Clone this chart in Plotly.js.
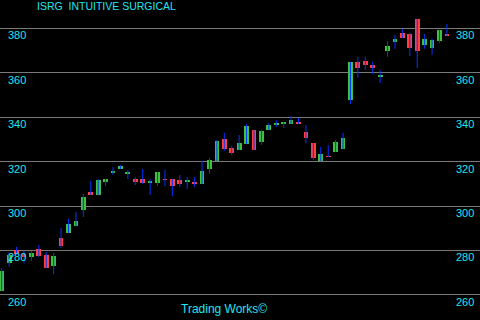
<!DOCTYPE html>
<html>
<head>
<meta charset="utf-8">
<script src="https://cdn.plot.ly/plotly-3.0.1.min.js"></script>
<style>html,body{margin:0;padding:0;background:#000;}#chart{width:480px;height:320px;}</style>
</head>
<body>
<div id="chart"></div>
<script>
var openP  = [261.9,274.5,280.2,278.5,277.1,280.7,278.0,273.0,285.6,287.9,291.0,298.2,306.4,305.0,310.9,314.9,316.7,314.5,312.2,312.2,310.6,310.4,312.2,312.2,311.8,310.9,310.9,310.0,316.7,320.3,330.2,326.2,325.3,328.0,334.3,328.9,334.3,336.5,337.0,337.0,337.9,333.4,328.4,320.3,322.5,324.4,325.7,347.8,364.9,365.4,363.6,358.2,369.9,373.9,378.0,377.5,384.3,372.6,371.2,374.4,377.5];
var highP  = [272.1,279.0,281.6,279.8,279.8,282.5,279.3,278.9,290.1,294.2,297.3,305.5,311.3,312.2,312.2,317.6,318.5,316.3,313.1,316.7,312.2,315.4,316.3,312.2,314.0,313.1,313.1,320.3,321.7,329.8,333.0,327.1,332.0,337.0,334.3,334.3,337.4,338.8,337.9,340.6,339.7,336.5,328.4,326.6,327.5,329.8,333.0,364.9,367.2,367.2,364.9,361.3,374.4,377.1,379.8,378.0,384.3,377.5,375.3,379.3,382.0];
var lowP   = [261.9,272.7,278.0,274.2,275.3,277.1,272.1,269.4,281.2,287.9,291.0,295.1,305.0,305.0,309.0,314.0,316.7,312.2,309.5,310.0,305.0,309.0,309.0,304.5,308.6,307.7,308.6,310.0,314.5,320.3,324.8,323.0,325.3,328.0,325.3,327.5,334.3,335.6,335.2,337.0,337.0,328.4,320.8,320.3,322.1,324.4,325.7,346.0,357.7,361.3,359.5,355.4,367.2,370.8,375.7,367.6,362.2,370.8,368.1,373.5,376.6];
var closeP = [270.8,278.0,278.5,276.9,278.9,277.5,272.1,277.5,282.0,291.9,293.3,304.1,305.0,311.7,312.2,315.8,318.1,315.4,310.9,310.4,310.9,315.4,311.8,309.0,310.0,311.8,310.0,315.8,320.8,329.3,325.7,323.9,328.4,336.1,325.3,333.8,336.5,337.4,337.9,338.8,337.0,330.7,321.7,323.4,322.1,328.9,330.7,364.9,362.2,363.6,362.2,359.1,372.1,375.3,375.7,371.2,369.9,375.3,374.8,379.3,376.6];
var tickVals = [260,280,300,320,340,360,380];
var titleText = "ISRG  INTUITIVE SURGICAL";
var footerText = "Trading Works\u00a9";

var n = openP.length;
var idx = [], wx = [], wy = [], base = [], hgt = [], cols = [];
for (var i = 0; i < n; i++) {
  idx.push(i);
  wx.push(i, i, null);
  wy.push(lowP[i], highP[i], null);
  var lo = Math.min(openP[i], closeP[i]);
  var h = Math.abs(closeP[i] - openP[i]);
  if (h < 0.8) { lo = (openP[i] + closeP[i]) / 2 - 0.4; h = 0.8; }
  base.push(lo); hgt.push(h);
  cols.push(closeP[i] >= openP[i] ? '#40c040' : '#ff4040');
}

var labelColor = '#22e4f0';
var anns = [];
tickVals.forEach(function(v){
  anns.push({x: 6/480, xref:'paper', xanchor:'left', y: v, yref:'y', yanchor:'top', yshift: 1,
    text: String(v), showarrow:false, font:{family:'Liberation Sans', size:11, color:labelColor}});
  anns.push({x: 476/480, xref:'paper', xanchor:'right', y: v, yref:'y', yanchor:'top', yshift: 1,
    text: String(v), showarrow:false, font:{family:'Liberation Sans', size:11, color:labelColor}});
});
anns.push({x: 35/480, xref:'paper', xanchor:'left', y: 1, yref:'paper', yanchor:'top', yshift: 2,
  text: titleText, showarrow:false, font:{family:'Liberation Sans', size:10.5, color:labelColor}});
anns.push({x: 224/480, xref:'paper', xanchor:'center', y: 0, yref:'paper', yanchor:'bottom', yshift: 2,
  text: footerText, showarrow:false, font:{family:'Liberation Sans', size:12, color:labelColor}});

var traces = [
  {type:'scatter', mode:'lines', x: wx, y: wy, line:{color:'#0036ff', width:1}, hoverinfo:'skip', showlegend:false},
  {type:'bar', x: idx, y: hgt, base: base, width: 0.64, marker:{color: cols, line:{width:0}}, hoverinfo:'skip', showlegend:false}
];

var layout = {
  width: 480, height: 320,
  margin: {l:0, r:0, t:0, b:0},
  paper_bgcolor: '#000', plot_bgcolor: '#000',
  showlegend: false,
  xaxis: {range: [-0.23, 64.46], showgrid:false, zeroline:false, showticklabels:false, ticks:'', fixedrange:true},
  yaxis: {range: [248.7, 392.8], tickvals: tickVals, showgrid:true, gridcolor:'#7a7a7a', gridwidth:1,
          zeroline:false, showticklabels:false, ticks:'', fixedrange:true},
  annotations: anns,
  bargap: 0
};
Plotly.newPlot('chart', traces, layout, {staticPlot:true, displayModeBar:false});
</script>
</body>
</html>
